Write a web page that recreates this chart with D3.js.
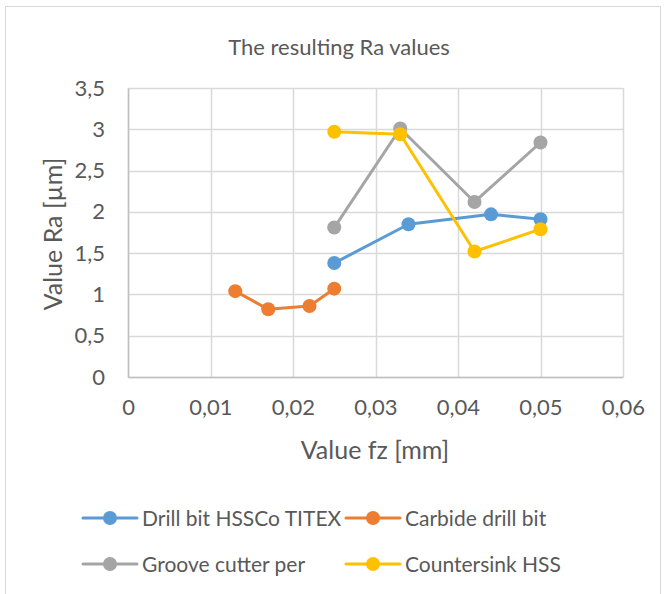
<!DOCTYPE html>
<html>
<head>
<meta charset="utf-8">
<script src="https://cdn.jsdelivr.net/npm/d3@7"></script>
<style>
  body { margin: 0; background: #fff; }
  text { font-family: Lato, "Open Sans", sans-serif; fill: #595959; }
</style>
</head>
<body>
<div id="chart"></div>
<script>
var seriesNames = ["Drill bit HSSCo TITEX", "Carbide drill bit", "Groove cutter per", "Countersink HSS"];
var seriesColors = ["#5B9BD5", "#ED7D31", "#A5A5A5", "#FFC000"];

var drillX = [0.025, 0.034, 0.044, 0.05];
var drillY = [1.38, 1.85, 1.97, 1.91];
var carbideX = [0.013, 0.017, 0.022, 0.025];
var carbideY = [1.04, 0.82, 0.86, 1.07];
var grooveX = [0.025, 0.033, 0.042, 0.05];
var grooveY = [1.81, 3.01, 2.12, 2.84];
var counterX = [0.025, 0.033, 0.042, 0.05];
var counterY = [2.97, 2.94, 1.52, 1.79];

var xTicks = [0, 0.01, 0.02, 0.03, 0.04, 0.05, 0.06];
var yTicks = [0, 0.5, 1, 1.5, 2, 2.5, 3, 3.5];

var width = 668, height = 594;
var margin = {top: 88, right: 45, bottom: 217, left: 128};

var svg = d3.select("#chart").append("svg")
    .attr("width", width)
    .attr("height", height);

svg.append("rect")
    .attr("x", 5.5).attr("y", 6.5)
    .attr("width", 655).attr("height", 600)
    .attr("fill", "#fff")
    .attr("stroke", "#D9D9D9");

var x = d3.scaleLinear().domain([0, 0.06]).range([margin.left, width - margin.right]);
var y = d3.scaleLinear().domain([0, 3.5]).range([height - margin.bottom, margin.top]);

var fmt = function(d) { return String(+d.toFixed(2)).replace(".", ","); };

// grid
svg.append("g").selectAll("line").data(yTicks).join("line")
    .attr("x1", x(0)).attr("x2", x(0.06))
    .attr("y1", d => Math.round(y(d)) + 0.5).attr("y2", d => Math.round(y(d)) + 0.5)
    .attr("stroke", "#D9D9D9").attr("stroke-width", 1.5);
svg.append("g").selectAll("line").data(xTicks).join("line")
    .attr("y1", y(0)).attr("y2", y(3.5))
    .attr("x1", d => Math.round(x(d)) + 0.5).attr("x2", d => Math.round(x(d)) + 0.5)
    .attr("stroke", "#D9D9D9").attr("stroke-width", 1.5);

// axes
var xAxis = svg.append("g")
    .attr("transform", "translate(0," + y(0) + ")")
    .call(d3.axisBottom(x).tickValues(xTicks).tickFormat(fmt).tickSize(0).tickPadding(22));
xAxis.select(".domain").attr("stroke", "#BFBFBF").attr("stroke-width", 1.5);
xAxis.selectAll("text").style("font-size", "22px").attr("fill", "#595959");

var yAxis = svg.append("g")
    .attr("transform", "translate(" + x(0) + ",0)")
    .call(d3.axisLeft(y).tickValues(yTicks).tickFormat(fmt).tickSize(0).tickPadding(23));
yAxis.select(".domain").attr("stroke", "#BFBFBF").attr("stroke-width", 1.5);
yAxis.selectAll("text").style("font-size", "22px").attr("fill", "#595959");

// titles
svg.append("text").attr("x", 339).attr("y", 55).attr("text-anchor", "middle")
    .style("font-size", "22px").text("The resulting Ra values");
svg.append("text").attr("x", 375).attr("y", 459).attr("text-anchor", "middle")
    .style("font-size", "25px").text("Value fz [mm]");
svg.append("text").attr("transform", "translate(62,234) rotate(-90)").attr("text-anchor", "middle")
    .style("font-size", "25px").text("Value Ra [µm]");

// series
var seriesX = [drillX, carbideX, grooveX, counterX];
var seriesY = [drillY, carbideY, grooveY, counterY];
var line = d3.line().x(d => x(d[0])).y(d => y(d[1]));

seriesNames.forEach(function(name, i) {
    var pts = d3.zip(seriesX[i], seriesY[i]);
    var g = svg.append("g");
    g.append("path").datum(pts)
        .attr("d", line)
        .attr("fill", "none")
        .attr("stroke", seriesColors[i])
        .attr("stroke-width", 3)
        .attr("stroke-linejoin", "round");
    g.selectAll("circle").data(pts).join("circle")
        .attr("cx", d => x(d[0])).attr("cy", d => y(d[1]))
        .attr("r", 7)
        .attr("fill", seriesColors[i]);
});

// legend
var legendPos = [[83, 518], [346, 518], [83, 564], [346, 564]];
seriesNames.forEach(function(name, i) {
    var lg = svg.append("g").attr("transform", "translate(" + legendPos[i][0] + "," + legendPos[i][1] + ")");
    lg.append("line").attr("x1", 0).attr("x2", 54).attr("y1", 0).attr("y2", 0)
        .attr("stroke", seriesColors[i]).attr("stroke-width", 3).attr("stroke-linecap", "round");
    lg.append("circle").attr("cx", 27).attr("cy", 0).attr("r", 7).attr("fill", seriesColors[i]);
    lg.append("text").attr("x", 59).attr("y", 8).style("font-size", "21px").text(name);
});
</script>
</body>
</html>
